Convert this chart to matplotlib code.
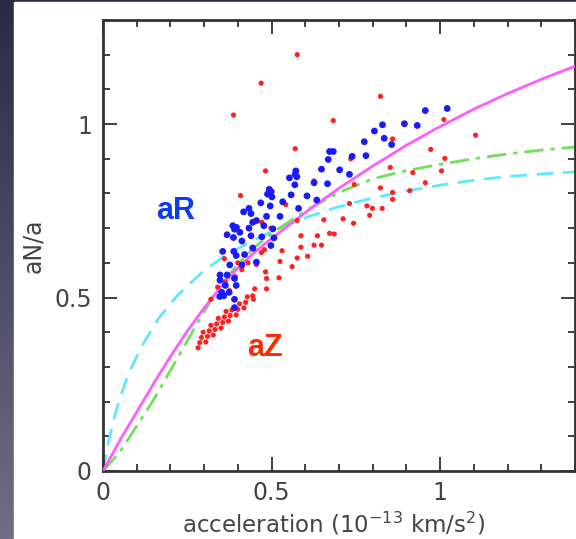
import numpy as np
import matplotlib
matplotlib.use("Agg")
import matplotlib.pyplot as plt
from matplotlib.patches import Rectangle
from matplotlib.ticker import MultipleLocator

# ---- curves ----
mag_x = [0, 0.05, 0.1, 0.15, 0.2, 0.25, 0.3, 0.35, 0.4, 0.45, 0.5, 0.6, 0.7, 0.8, 0.9, 1.0, 1.1, 1.2, 1.3, 1.4]
mag_y = [0, 0.088, 0.17, 0.252, 0.33, 0.403, 0.47, 0.531, 0.585, 0.631, 0.670, 0.745, 0.815, 0.879, 0.939, 0.993, 1.043, 1.088, 1.129, 1.167]

grn_x = [0, 0.05, 0.1, 0.15, 0.2, 0.25, 0.3, 0.35, 0.4, 0.45, 0.5, 0.6, 0.7, 0.8, 0.9, 1.0, 1.1, 1.2, 1.3, 1.4]
grn_y = [0, 0.055, 0.13, 0.205, 0.29, 0.375, 0.46, 0.535, 0.597, 0.645, 0.685, 0.75, 0.803, 0.842, 0.866, 0.884, 0.900, 0.914, 0.925, 0.934]

cyn_x = [0, 0.01, 0.02, 0.035, 0.05, 0.07, 0.09, 0.115, 0.14, 0.165, 0.19, 0.22, 0.25, 0.3, 0.35, 0.4,
         0.45, 0.5, 0.55, 0.6, 0.7, 0.8, 0.9, 1.0, 1.1, 1.2, 1.3, 1.4]
cyn_y = [0, 0.055, 0.10, 0.16, 0.21, 0.265, 0.31, 0.36, 0.40, 0.44, 0.47, 0.505, 0.533, 0.578, 0.612, 0.641,
         0.667, 0.69, 0.71, 0.73, 0.762, 0.787, 0.807, 0.824, 0.838, 0.849, 0.856, 0.862]

# ---- scatter points ----
red_x = [0.576, 0.469, 0.387, 0.823, 0.683, 1.011, 1.105, 0.859, 0.570, 0.972,
         1.014, 0.735, 0.852, 0.482, 1.004, 0.919, 0.956, 0.626, 0.745, 0.823,
         0.910, 0.859, 0.408, 0.731, 0.859, 0.783, 0.799, 0.828, 0.791, 0.542,
         0.576, 0.712, 0.743, 0.655, 0.471, 0.498, 0.587, 0.636, 0.672, 0.686,
         0.626, 0.648, 0.587, 0.531, 0.607, 0.576, 0.479, 0.525, 0.561, 0.360,
         0.522, 0.482, 0.485, 0.485, 0.450, 0.444, 0.446,
         0.282, 0.287, 0.292, 0.297, 0.305, 0.310, 0.315, 0.320,
         0.327, 0.332, 0.337, 0.342, 0.350, 0.355, 0.360, 0.365,
         0.372, 0.377, 0.382, 0.395, 0.400, 0.405, 0.418, 0.423, 0.428,
         0.320, 0.340, 0.362, 0.375, 0.392, 0.412, 0.430, 0.455, 0.470, 0.447, 0.400]
red_y = [1.200, 1.118, 1.026, 1.080, 1.010, 1.013, 0.968, 0.957, 0.929, 0.927,
         0.901, 0.900, 0.875, 0.865, 0.865, 0.860, 0.831, 0.836, 0.826, 0.816,
         0.808, 0.803, 0.794, 0.771, 0.783, 0.764, 0.757, 0.757, 0.737, 0.768,
         0.722, 0.727, 0.714, 0.724, 0.717, 0.700, 0.678, 0.678, 0.685, 0.683,
         0.651, 0.651, 0.645, 0.635, 0.619, 0.614, 0.638, 0.604, 0.589, 0.612,
         0.557, 0.574, 0.555, 0.525, 0.525, 0.505, 0.495,
         0.355, 0.370, 0.385, 0.400, 0.372, 0.388, 0.404, 0.420,
         0.392, 0.408, 0.424, 0.440, 0.412, 0.428, 0.444, 0.460,
         0.432, 0.448, 0.464, 0.450, 0.466, 0.482, 0.470, 0.486, 0.502,
         0.495, 0.530, 0.545, 0.520, 0.560, 0.580, 0.600, 0.595, 0.630, 0.640, 0.600]

blue_x = [1.021, 0.956, 0.829, 0.894, 0.932, 0.805, 0.834, 0.775, 0.856, 0.672,
          0.683, 0.739, 0.668, 0.780, 0.648, 0.702, 0.731, 0.572, 0.570, 0.575,
          0.553, 0.626, 0.666, 0.569, 0.493, 0.499, 0.488, 0.501, 0.558, 0.605,
          0.468, 0.496, 0.533, 0.634, 0.580, 0.433, 0.439, 0.417, 0.485, 0.525,
          0.455, 0.444, 0.385, 0.396, 0.390, 0.368, 0.406, 0.433, 0.477, 0.504,
          0.507, 0.498, 0.439, 0.471, 0.412, 0.387, 0.355, 0.388, 0.420, 0.444,
          0.395, 0.455, 0.376, 0.412, 0.347, 0.368, 0.390, 0.347, 0.363, 0.395,
          0.352, 0.358, 0.374, 0.390, 0.346, 0.390]
blue_y = [1.045, 1.039, 0.998, 1.001, 0.996, 0.980, 0.959, 0.949, 0.941, 0.921,
          0.921, 0.907, 0.898, 0.909, 0.870, 0.868, 0.855, 0.865, 0.855, 0.848,
          0.845, 0.831, 0.828, 0.825, 0.812, 0.805, 0.798, 0.790, 0.796, 0.793,
          0.773, 0.764, 0.776, 0.781, 0.757, 0.757, 0.742, 0.747, 0.734, 0.734,
          0.722, 0.717, 0.707, 0.702, 0.697, 0.681, 0.688, 0.700, 0.707, 0.698,
          0.672, 0.650, 0.678, 0.675, 0.663, 0.673, 0.633, 0.633, 0.624, 0.643,
          0.621, 0.602, 0.594, 0.594, 0.565, 0.565, 0.555, 0.550, 0.535, 0.535,
          0.515, 0.505, 0.515, 0.495, 0.503, 0.471]

xticks = [0, 0.5, 1]
xtick_labels = ["0", "0.5", "1"]
yticks = [0, 0.5, 1]
ytick_labels = ["0", "0.5", "1"]

W, H = 576, 539
fig = plt.figure(figsize=(W / 100, H / 100), dpi=100)

# background: dark gradient frame + white panel
bg = fig.add_axes([0, 0, 1, 1])
bg.set_xlim(0, W)
bg.set_ylim(0, H)
bg.axis("off")
top_c = np.array([0x2a, 0x2a, 0x46]) / 255
bot_c = np.array([0x70, 0x6e, 0x84]) / 255
t = np.linspace(0, 1, 256)[:, None]
grad = (top_c[None, :] * (1 - t) + bot_c[None, :] * t)[:, None, :]
bg.imshow(grad, extent=[0, W, 0, H], aspect="auto", origin="upper", zorder=0)
bg.add_patch(Rectangle((14, 0), W - 14, H - 2, color="white", zorder=1))

ax = fig.add_axes([103 / W, 1 - 471 / H, 472 / W, 451 / H])
ax.set_facecolor("white")

ax.plot(cyn_x, cyn_y, color="#5ee8ff", lw=2.0, ls=(0, (6, 3.5)), zorder=2)
ax.plot(grn_x, grn_y, color="#6ee05a", lw=2.0, ls=(0, (7, 2.5, 1.5, 2.5)), zorder=2)
ax.plot(mag_x, mag_y, color="#ff5cff", lw=2.0, zorder=3)

ax.scatter(red_x, red_y, s=14, color="#ff2020", edgecolors="none", zorder=4)
ax.scatter(blue_x, blue_y, s=24, color="#1a1aff", edgecolors="none", zorder=5)

ax.set_xlim(0, 1.4)
ax.set_ylim(0, 1.3)
ax.set_xticks(xticks)
ax.set_xticklabels(xtick_labels)
ax.set_yticks(yticks)
ax.set_yticklabels(ytick_labels)
ax.xaxis.set_minor_locator(MultipleLocator(0.1))
ax.yaxis.set_minor_locator(MultipleLocator(0.1))
ax.tick_params(which="both", direction="in", top=True, right=True,
               color="#333333", width=1.3)
ax.tick_params(which="major", length=10, labelsize=17, labelcolor="#444444")
ax.tick_params(which="minor", length=5)
ax.tick_params(axis="x", pad=7)
ax.tick_params(axis="y", pad=8)
for s in ax.spines.values():
    s.set_color("#333333")
    s.set_linewidth(2)

ax.set_xlabel("acceleration (10$^{-13}$ km/s$^{2}$)", fontsize=16.5, color="#444444")
ax.xaxis.set_label_coords((334 - 103) / 472, (471 - 524) / 451)
ax.xaxis.label.set_va("center")
ax.set_ylabel("aN/a", fontsize=17, color="#444444")
ax.yaxis.set_label_coords((33 - 103) / 472, 0.5)
ax.yaxis.label.set_va("center")

ax.text(0.215, 0.75, "aR", color="#0a3cf0", fontsize=22, fontweight="bold",
        family="Liberation Sans", ha="center", va="center")
ax.text(0.48, 0.355, "aZ", color="#ff2a00", fontsize=22, fontweight="bold",
        family="Liberation Sans", ha="center", va="center")

fig.savefig("out.png", dpi=100)
